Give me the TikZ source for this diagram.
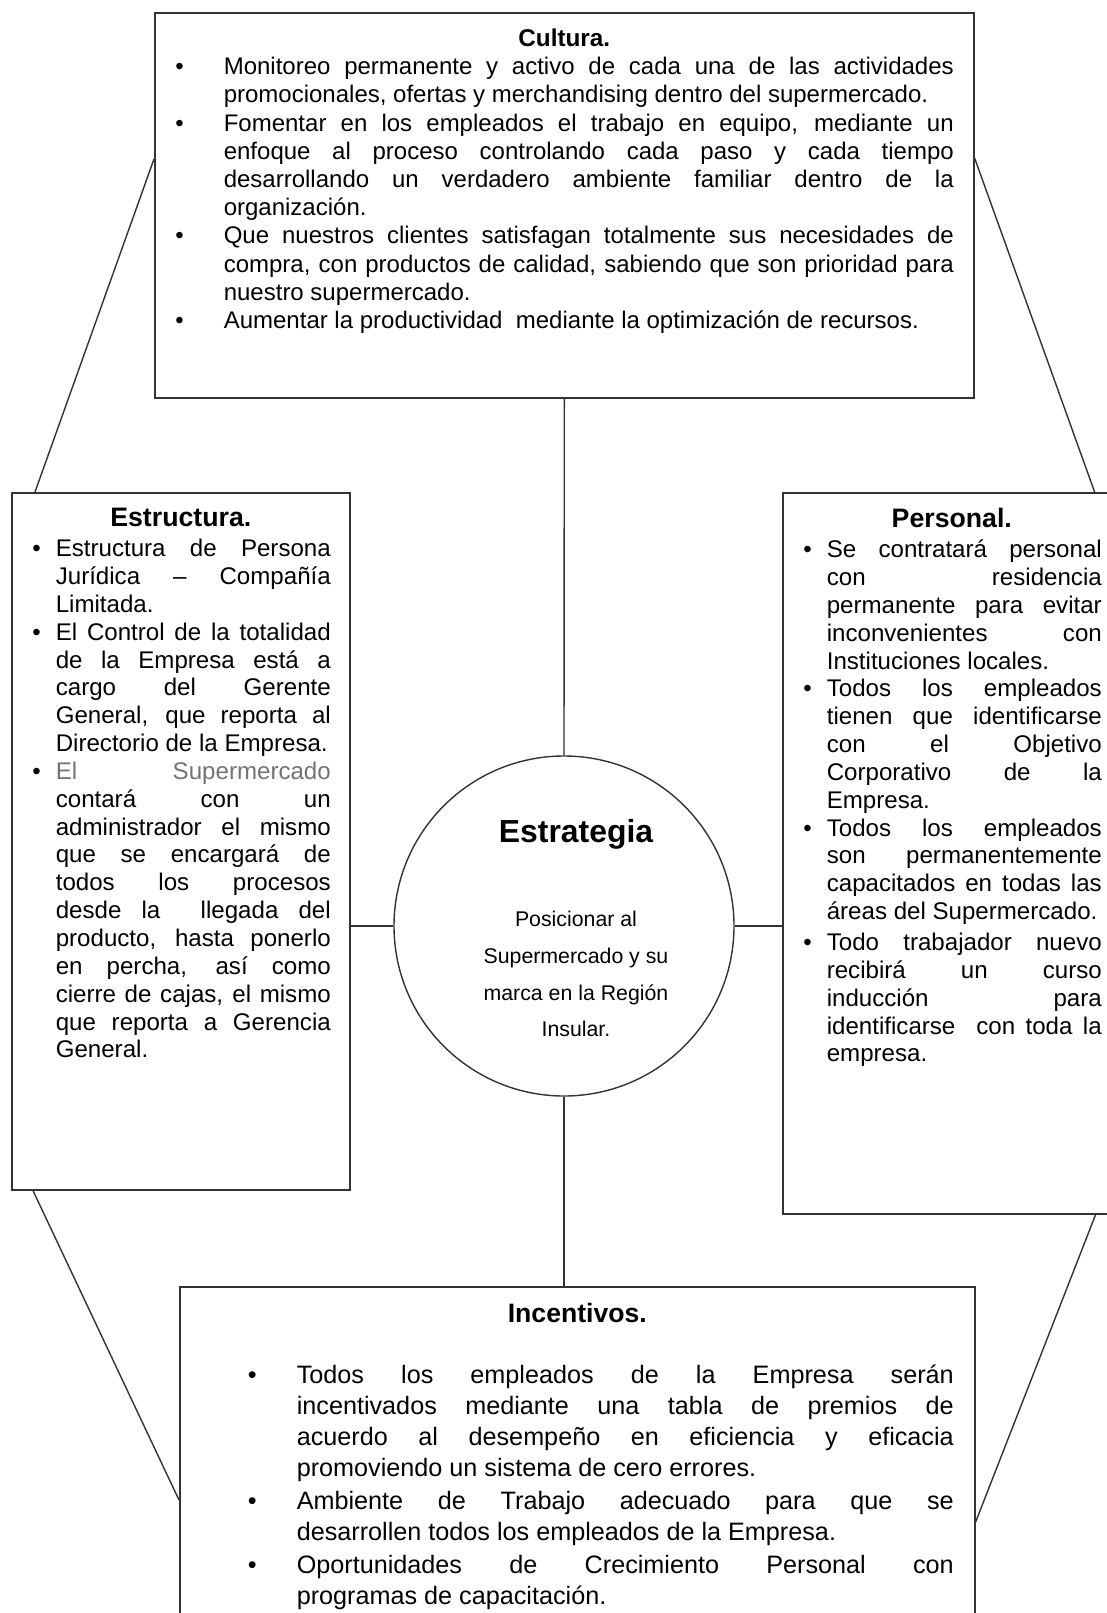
\documentclass[tikz,border=0pt]{standalone}
\usepackage{fontspec}
\setmainfont{Liberation Sans}

\hbadness=10000
\hfuzz=3pt

% lista de viñetas: sangria, margen derecho, separacion de la viñeta
\newenvironment{vinetas}[3]{%
  \begin{list}{\textbullet}{%
    \setlength{\leftmargin}{#1}\setlength{\rightmargin}{#2}%
    \setlength{\labelsep}{#3}\setlength{\labelwidth}{12pt}%
    \setlength{\itemsep}{0pt}\setlength{\parsep}{0pt}%
    \setlength{\topsep}{0pt}\setlength{\partopsep}{0pt}}}%
  {\end{list}}
\newcommand{\singuion}{\hyphenpenalty=10000 \exhyphenpenalty=10000 \tolerance=10000 \parskip=0pt}

\tikzset{
  caja/.style={draw=black!80, line width=1.6pt, inner sep=0pt, anchor=north west},
  enlace/.style={draw=black!80, line width=1.4pt},
}

\begin{document}
\begin{tikzpicture}[x=1pt,y=-1pt]
\useasboundingbox (0,0) rectangle (1106,1613);

% cuadro superior
\node[caja] (cultura) at (154,12) {\begin{minipage}[t][385pt][t]{819pt}\singuion
\vspace*{16pt}
{\centering\bfseries\fontsize{24.3}{28.2}\selectfont Cultura.\par}
\fontsize{24}{28.2}\selectfont
\begin{vinetas}{69pt}{20pt}{40pt}
\item Monitoreo permanente y activo de cada una de las actividades\linebreak
promocionales, ofertas y merchandising dentro del supermercado.
\item Fomentar en los empleados el trabajo en equipo, mediante un\linebreak
enfoque al proceso controlando cada paso y cada tiempo\linebreak
desarrollando un verdadero ambiente familiar dentro de la\linebreak
organización.
\item Que nuestros clientes satisfagan totalmente sus necesidades de\linebreak
compra, con productos de calidad, sabiendo que son prioridad para\linebreak
nuestro supermercado.
\item Aumentar la productividad \ mediante la optimización de recursos.
\end{vinetas}
\end{minipage}};

% cuadro izquierdo
\node[caja] (estructura) at (11,492) {\begin{minipage}[t][697pt][t]{338pt}\singuion
\vspace*{15pt}
{\centering\bfseries\fontsize{26.7}{30}\selectfont Estructura.\par}
\vspace{2.6pt}
\fontsize{24.1}{27.85}\selectfont
\begin{vinetas}{44pt}{19pt}{15pt}
\item Estructura de Persona\linebreak
Jurídica – Compañía\linebreak
Limitada.
\item El Control de la totalidad\linebreak
de la Empresa está a\linebreak
cargo del Gerente\linebreak
General, que reporta al\linebreak
Directorio de la Empresa.
\item {\color{black!55}El Supermercado}\linebreak
contará con un\linebreak
administrador el mismo\linebreak
que se encargará de\linebreak
todos los procesos\linebreak
desde la \ llegada del\linebreak
producto, hasta ponerlo\linebreak
en percha, así como\linebreak
cierre de cajas, el mismo\linebreak
que reporta a Gerencia\linebreak
General.
\end{vinetas}
\end{minipage}};

% cuadro derecho
\node[caja] (personal) at (782,492) {\begin{minipage}[t][721pt][t]{338pt}\singuion
\vspace*{15pt}
{\centering\bfseries\fontsize{26.7}{30}\selectfont Personal.\par}
\vspace{2.6pt}
\fontsize{24.1}{27.85}\selectfont
\begin{vinetas}{44pt}{19pt}{15pt}
\item Se contratará personal\linebreak
con residencia\linebreak
permanente para evitar\linebreak
inconvenientes con\linebreak
Instituciones locales.
\item Todos los empleados\linebreak
tienen que identificarse\linebreak
con el Objetivo\linebreak
Corporativo de la\linebreak
Empresa.
\item Todos los empleados\linebreak
son permanentemente\linebreak
capacitados en todas las\linebreak
áreas del Supermercado.
\setlength{\itemsep}{3pt}
\item Todo trabajador nuevo\linebreak
recibirá un curso\linebreak
inducción para\linebreak
identificarse \ con toda la\linebreak
empresa.
\end{vinetas}
\end{minipage}};

% cuadro inferior
\node[caja] (incentivos) at (179,1286) {\begin{minipage}[t][340pt][t]{795pt}\singuion
\vspace*{16pt}
{\centering\bfseries\fontsize{26.6}{30}\selectfont Incentivos.\par}
\vspace{31pt}
\fontsize{25.2}{30.9}\selectfont
\begin{vinetas}{117pt}{21pt}{40pt}
\setlength{\itemsep}{2pt}
\item Todos los empleados de la Empresa serán\linebreak
incentivados mediante una tabla de premios de\linebreak
acuerdo al desempeño en eficiencia y eficacia\linebreak
promoviendo un sistema de cero errores.
\item Ambiente de Trabajo adecuado para que se\linebreak
desarrollen todos los empleados de la Empresa.
\item Oportunidades de Crecimiento Personal con\linebreak
programas de capacitación.
\end{vinetas}
\end{minipage}};

% circulo central
\node[draw=black!80, line width=1.4pt, circle, minimum size=340pt, inner sep=0pt] (estrategia) at (564,926) {};
\node[anchor=north, inner sep=0pt] (lema) at ([xshift=12pt,yshift=107pt]estrategia.center) {\parbox{300pt}{\centering
{\bfseries\fontsize{31.9}{36.9}\selectfont Estrategia\par}
\vspace{47pt}
\fontsize{21.3}{36.9}\selectfont
Posicionar al\\
Supermercado y su\\
marca en la Región\\
Insular.\par}};

% enlaces
\draw[enlace] (cultura.south) -- (estrategia.north);
\draw[enlace] (estrategia.south) -- (estrategia.south |- incentivos.north);
\draw[enlace] (estrategia.west -| estructura.east) -- (estrategia.west);
\draw[enlace] (estrategia.east) -- (estrategia.east -| personal.west);
\draw[enlace] ([yshift=-147pt]cultura.north west) -- ([xshift=24pt]estructura.north west);
\draw[enlace] ([yshift=-146pt]cultura.north east) -- ([xshift=-27pt]personal.north east);
\draw[enlace] ([xshift=22pt]estructura.south west) -- ([yshift=-214pt]incentivos.north west);
\draw[enlace] ([xshift=-26pt]personal.south east) -- ([yshift=-236pt]incentivos.north east);
\end{tikzpicture}
\end{document}
